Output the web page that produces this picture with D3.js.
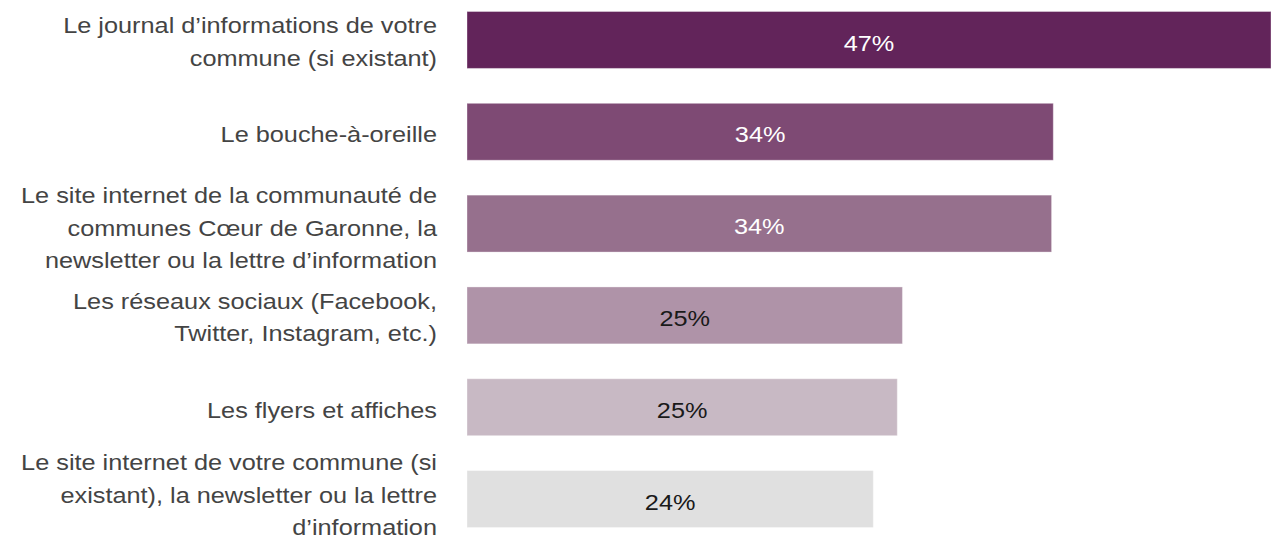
<!DOCTYPE html>
<html lang="fr">
<head>
<meta charset="utf-8">
<script src="https://cdn.jsdelivr.net/npm/d3@7"></script>
<style>
  html, body { margin: 0; padding: 0; background: #fff; overflow: hidden; }
  svg { display: block; font-family: "Liberation Sans", Arial, sans-serif; }
</style>
</head>
<body>
<svg id="chart" width="1271" height="542"></svg>
<script>
// Categories (line breaks mark where each label wraps)
const categories = [
  "Le journal d’informations de votre\ncommune (si existant)",
  "Le bouche-à-oreille",
  "Le site internet de la communauté de\ncommunes Cœur de Garonne, la\nnewsletter ou la lettre d’information",
  "Les réseaux sociaux (Facebook,\nTwitter, Instagram, etc.)",
  "Les flyers et affiches",
  "Le site internet de votre commune (si\nexistant), la newsletter ou la lettre\nd’information"
];
// Share of respondents, in percent
const values = [46.9, 34.2, 34.1, 25.4, 25.1, 23.7];
// Bar fills, darkest to lightest
const colors = ["#62245a", "#7e4a74", "#96708d", "#af93a8", "#c8b9c4", "#e0e0e0"];
const labelColors = ["#ffffff", "#ffffff", "#ffffff", "#1a1a1a", "#1a1a1a", "#1a1a1a"];

const W = 1271, H = 542;
const svg = d3.select("#chart");
const left = 467;
const fontSize = 22;
const stretch = 1.15;   // wide glyphs

const x = d3.scaleLinear()
  .domain([0, d3.max(values)])
  .range([0, 804]);

const y = d3.scaleBand()
  .domain(d3.range(categories.length))
  .range([11.5, 527.5])
  .paddingInner(0.38)
  .paddingOuter(0);

const fmt = d => d3.format(".0f")(d) + "%";

const g = svg.append("g").attr("transform", `translate(${left},0)`);

// Bars
g.selectAll("rect.bar")
  .data(values)
  .join("rect")
  .attr("class", "bar")
  .attr("x", 0)
  .attr("y", (d, i) => y(i))
  .attr("width", d => x(d))
  .attr("height", y.bandwidth())
  .attr("fill", (d, i) => colors[i])
  .attr("stroke", "#ffffff")
  .attr("stroke-opacity", 0.35)
  .attr("stroke-width", 1);

// Value labels centred in each bar
g.selectAll("text.value")
  .data(values)
  .join("text")
  .attr("class", "value")
  .attr("transform", (d, i) =>
    `translate(${x(d) / 2},${y(i) + y.bandwidth() / 2 + 10.7}) scale(${stretch},1)`)
  .attr("text-anchor", "middle")
  .attr("font-size", fontSize)
  .attr("fill", (d, i) => labelColors[i])
  .text(fmt);

// Category labels, right-aligned against the bars
const lineH = 32.4;
const midOffset = { 1: 10.7, 2: 9.7, 3: 12.3 };
const cat = svg.append("g")
  .selectAll("text.cat")
  .data(categories)
  .join("text")
  .attr("class", "cat")
  .attr("text-anchor", "end")
  .attr("font-size", fontSize)
  .attr("fill", "#444444")
  .attr("transform", `translate(437,0) scale(${stretch},1)`);

cat.each(function (d, i) {
  const lines = d.split("\n");
  const cy = y(i) + y.bandwidth() / 2 + midOffset[lines.length];
  let startY = cy - (lines.length - 1) * lineH / 2;
  // keep the last line clear of the bottom edge
  const lastY = startY + (lines.length - 1) * lineH;
  if (lastY > H - 7) startY -= lastY - (H - 7);
  d3.select(this).selectAll("tspan")
    .data(lines)
    .join("tspan")
    .attr("x", 0)
    .attr("y", (l, k) => startY + k * lineH)
    .text(l => l);
});
</script>
</body>
</html>
